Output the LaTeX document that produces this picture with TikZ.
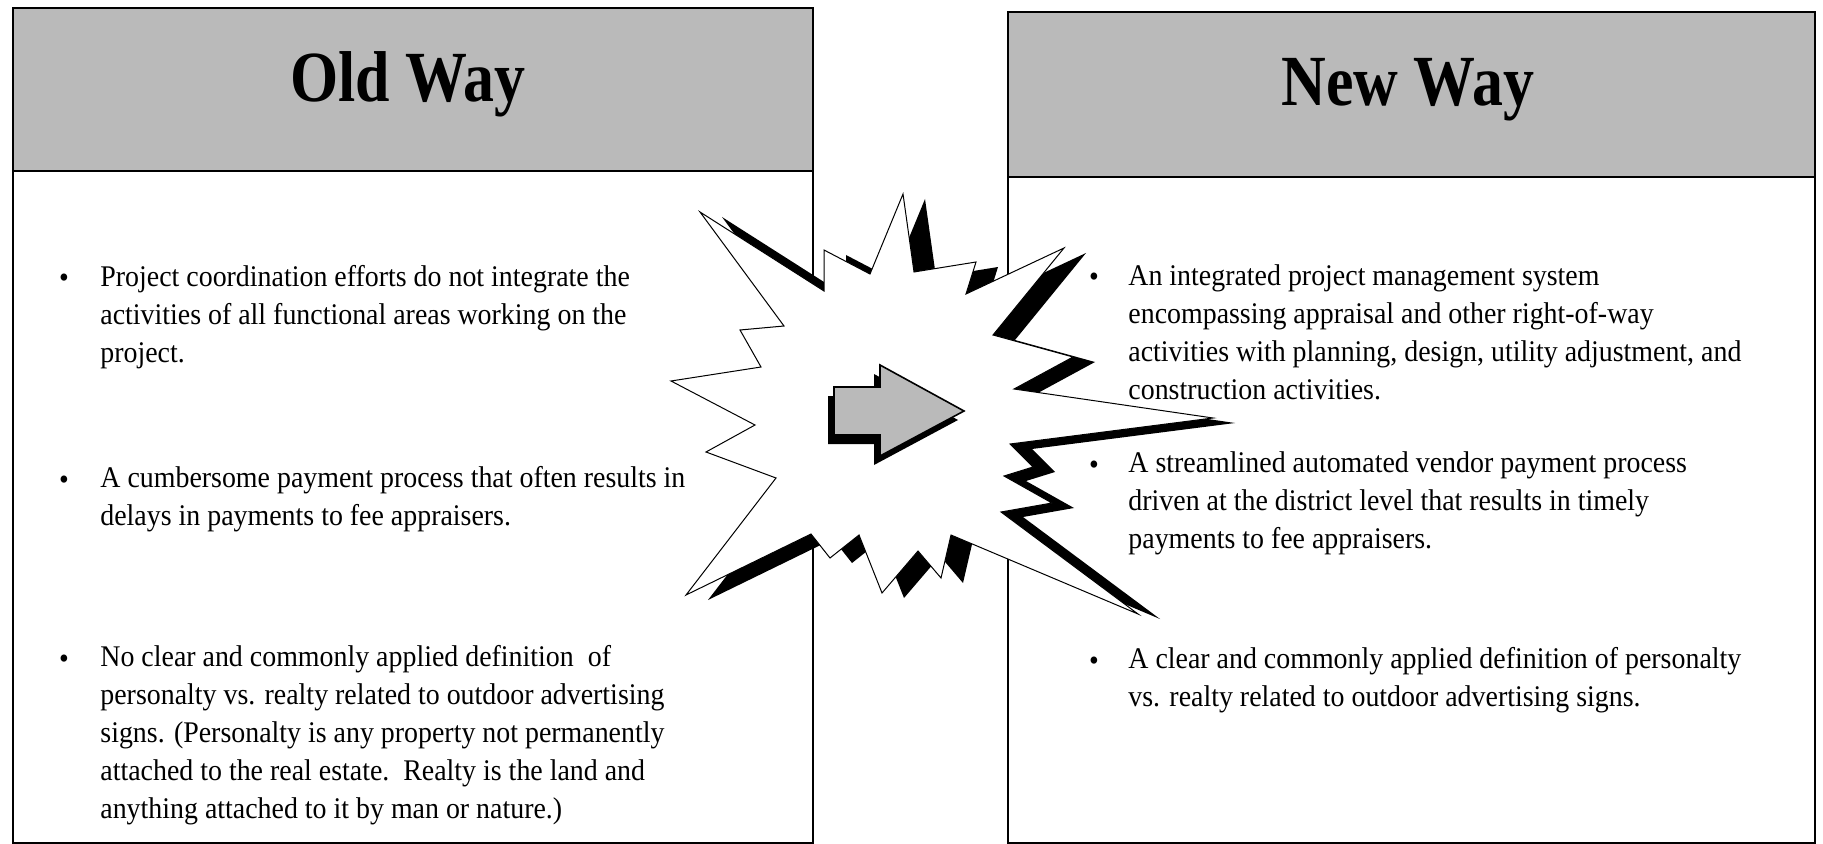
\documentclass[tikz,border=0pt]{standalone}
\usepackage{fontspec}
\setmainfont{Liberation Serif}
\newfontfamily\headfont[FakeStretch=0.86]{Liberation Serif}
\newfontfamily\bodyfont[FakeStretch=0.93]{Liberation Serif}

\begin{document}
\begin{tikzpicture}
    [
    x=0.5pt, y=-0.5pt,
    frame/.style={draw,line width=1.3pt},
    band/.style={fill=black!27},
    title/.style={anchor=base,inner sep=0pt,font=\headfont\bfseries\fontsize{36}{40}\selectfont},
    item/.style={anchor=north west,align=left,inner sep=0pt,font=\bodyfont\fontsize{15}{18.9}\selectfont},
    dot/.style={anchor=base,inner sep=0pt,font=\bodyfont\fontsize{15}{18.9}\selectfont},
    burst/.style={fill=white,draw,line width=0.5pt},
    shade/.style={fill=black},
    burstline/.style={insert path={(700,212) -- (824,291) -- (824,250) -- (870,274) -- (903,194)
      -- (914,272) -- (976,262) -- (966,294) -- (1064,248) -- (993,335) -- (1073,357)
      -- (1014,389) -- (1213,418) -- (1010,444) -- (1033,467) -- (1004,476) -- (1052,503)
      -- (1001,512) -- (1138,614) -- (951,535) -- (941,578) -- (918,551) -- (882,593)
      -- (859,535) -- (830,558) -- (811,534) -- (686,595) -- (776,478) -- (706,452)
      -- (755,425) -- (671,381) -- (761,367) -- (740,330) -- (784,326) -- cycle}},
    arrowline/.style={insert path={(834,387) -- (880,387) -- (880,365) -- (964,411)
      -- (880,456) -- (880,435) -- (834,435) -- cycle}}
    ]
    \useasboundingbox (0,0) rectangle (1823,844);
    % panels
    \fill [band] (13,8) rectangle (813,171);
    \draw [frame] (13,8) rectangle (813,843);
    \draw [frame] (13,171) -- (813,171);
    \fill [band] (1008,12) rectangle (1815,177);
    \draw [frame] (1008,12) rectangle (1815,843);
    \draw [frame] (1008,177) -- (1815,177);
    \node (oldtitle) at (408,102) [title] {Old Way};
    \node (newtitle) at (1408,106) [title] {New Way};
    % burst and arrow
    \path [shade,shift={(22,5)},burstline];
    \path [burst,burstline];
    \path [shade,shift={(-6,9)},arrowline];
    \path [fill=black!27,draw,line width=0.8pt,arrowline];
    % old way
    \node (dotold1) at (64,288) [dot] {\textbullet};
    \node (old1) at (100,260) [item] {\strut Project coordination efforts do not integrate the\\activities of all functional areas working on the\\project.};
    \node (dotold2) at (64,489) [dot] {\textbullet};
    \node (old2) at (100,461) [item] {\strut A cumbersome payment process that often results in\\delays in payments to fee appraisers.};
    \node (dotold3) at (64,668) [dot] {\textbullet};
    \node (old3) at (100,640) [item] {\strut No clear and commonly applied definition\ \ of\\personalty vs. realty related to outdoor advertising\\signs. (Personalty is any property not permanently\\attached to the real estate.\ \ Realty is the land and\\anything attached to it by man or nature.)};
    % new way
    \node (dotnew1) at (1094,287) [dot] {\textbullet};
    \node (new1) at (1128,259) [item] {\strut An integrated project management system\\encompassing appraisal and other right-of-way\\activities with planning, design, utility adjustment, and\\construction activities.};
    \node (dotnew2) at (1094,474) [dot] {\textbullet};
    \node (new2) at (1128,446) [item] {\strut A streamlined automated vendor payment process\\driven at the district level that results in timely\\payments to fee appraisers.};
    \node (dotnew3) at (1094,670) [dot] {\textbullet};
    \node (new3) at (1128,642) [item] {\strut A clear and commonly applied definition of personalty\\vs. realty related to outdoor advertising signs.};
\end{tikzpicture}
\end{document}
